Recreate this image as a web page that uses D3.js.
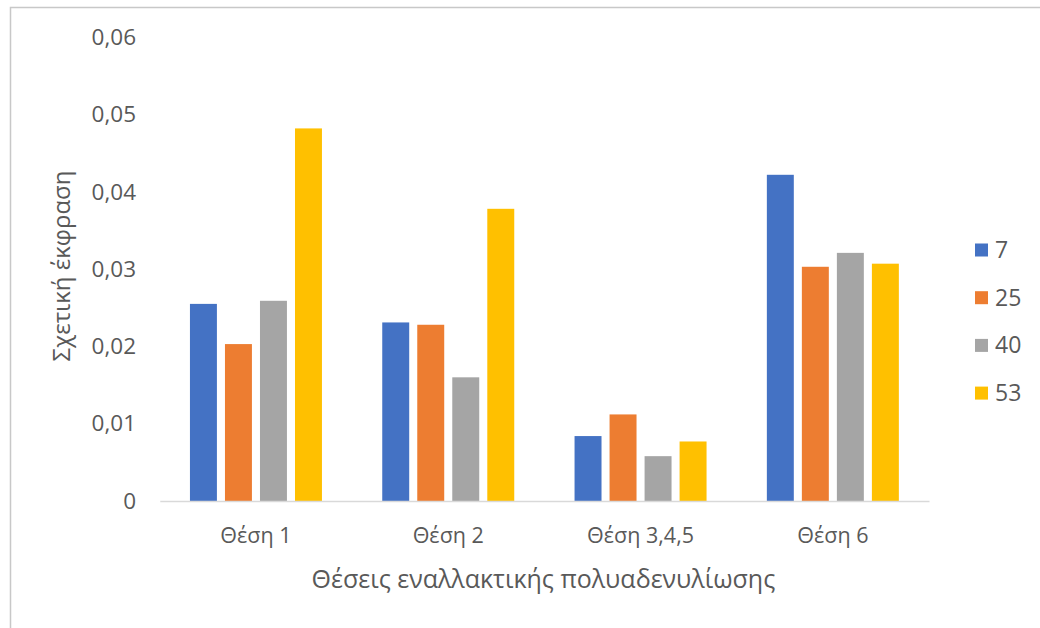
<!DOCTYPE html>
<html>
<head>
<meta charset="utf-8">
<script src="https://cdn.jsdelivr.net/npm/d3@7"></script>
<style>
  html, body { margin: 0; padding: 0; background: #ffffff; }
  svg { display: block; }
  text { font-family: "Open Sans", "Noto Sans", sans-serif; fill: #595959; }
</style>
</head>
<body>
<svg id="chart" width="1040" height="628"></svg>
<script>
// Relative expression per alternative polyadenylation site
const categories = ["Θέση 1", "Θέση 2", "Θέση 3,4,5", "Θέση 6"];
const seriesNames = ["7", "25", "40", "53"];
const values7  = [0.0255, 0.0231, 0.0084, 0.0422];
const values25 = [0.0203, 0.0228, 0.0112, 0.0303];
const values40 = [0.0259, 0.0160, 0.0058, 0.0321];
const values53 = [0.0482, 0.0378, 0.0077, 0.0307];
const yTicks = [0, 0.01, 0.02, 0.03, 0.04, 0.05, 0.06];
const colors = ["#4472C4", "#ED7D31", "#A5A5A5", "#FFC000"];

const seriesValues = [values7, values25, values40, values53];
const rows = categories.map((c, i) => ({
  category: c,
  bars: seriesNames.map((s, j) => ({ series: s, value: seriesValues[j][i] }))
}));

const svg = d3.select("#chart");

// chart frame
svg.append("rect")
  .attr("x", 10.5).attr("y", 7.5)
  .attr("width", 1100).attr("height", 700)
  .attr("fill", "#ffffff")
  .attr("stroke", "#c8c8c8")
  .attr("stroke-width", 1.5);

const plot = { left: 159.8, right: 929, top: 37.2, bottom: 501 };

const x = d3.scaleBand()
  .domain(categories)
  .range([plot.left, plot.right])
  .paddingInner(0).paddingOuter(0);

const xInner = d3.scaleBand()
  .domain(seriesNames)
  .range([-66, 66])
  .paddingInner(0.23)
  .paddingOuter(0);

const y = d3.scaleLinear()
  .domain([0, 0.06])
  .range([plot.bottom, plot.top]);

const fmt = d => d === 0 ? "0" : d3.format(".2f")(d).replace(".", ",");

// y-axis tick labels (no axis line, no gridlines)
const yAxis = d3.axisLeft(y).tickValues(yTicks).tickFormat(fmt).tickSize(0).tickPadding(0);
const yg = svg.append("g").attr("transform", `translate(136,0)`).call(yAxis);
yg.select(".domain").remove();
yg.selectAll("text")
  .attr("font-size", 22.5)
  .attr("font-family", null)
  .attr("fill", "#595959");

// bars
const groups = svg.append("g").selectAll("g")
  .data(rows)
  .join("g")
  .attr("transform", d => `translate(${x(d.category) + x.bandwidth() / 2},0)`);

groups.selectAll("rect")
  .data(d => d.bars)
  .join("rect")
  .attr("x", d => xInner(d.series))
  .attr("width", xInner.bandwidth())
  .attr("y", d => y(d.value))
  .attr("height", d => y(0) - y(d.value))
  .attr("fill", (d, i) => colors[i]);

// category axis
const xAxis = d3.axisBottom(x).tickSize(0).tickPadding(0);
const xg = svg.append("g").attr("transform", `translate(0,${plot.bottom})`).call(xAxis);
xg.select(".domain").attr("stroke", "#d9d9d9").attr("stroke-width", 1.5);
xg.selectAll("text")
  .attr("font-size", 21.5)
  .attr("font-family", null)
  .attr("fill", "#595959")
  .attr("y", 35)
  .attr("dy", "0.32em");

// axis titles
svg.append("text")
  .attr("x", (plot.left + plot.right) / 2 - 1)
  .attr("y", 579)
  .attr("dy", "0.35em")
  .attr("text-anchor", "middle")
  .attr("font-size", 25)
  .text("Θέσεις εναλλακτικής πολυαδενυλίωσης");

svg.append("text")
  .attr("transform", "translate(62,266) rotate(-90)")
  .attr("dy", "0.35em")
  .attr("text-anchor", "middle")
  .attr("font-size", 24)
  .text("Σχετική έκφραση");

// legend
const legend = svg.append("g").selectAll("g")
  .data(seriesNames)
  .join("g")
  .attr("transform", (d, i) => `translate(975,${250 + i * 47.7})`);
legend.append("rect")
  .attr("x", 0).attr("y", -6.5)
  .attr("width", 13).attr("height", 13)
  .attr("fill", (d, i) => colors[i]);
legend.append("text")
  .attr("x", 20).attr("dy", "0.35em")
  .attr("font-size", 23)
  .text(d => d);
</script>
</body>
</html>
